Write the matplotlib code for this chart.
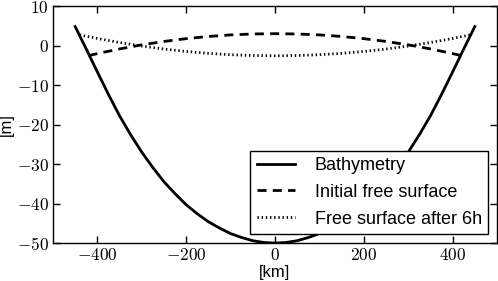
import numpy as np
import matplotlib
matplotlib.use('Agg')
import matplotlib.pyplot as plt
from matplotlib.ticker import FuncFormatter

# profile values, km / m
x_bathy = [-450, -425, -400, -375, -350, -325, -300, -275, -250, -225, -200,
           -175, -150, -125, -100, -75, -50, -25, 0,
           25, 50, 75, 100, 125, 150, 175, 200, 225, 250,
           275, 300, 325, 350, 375, 400, 425, 450]
h_bathy = [4.8, -0.9, -6.7, -12.4, -17.8, -22.6, -27.0, -30.9, -34.5, -37.5, -40.3,
           -42.6, -44.6, -46.2, -47.6, -48.6, -49.4, -49.85, -50.0,
           -49.85, -49.4, -48.6, -47.6, -46.2, -44.6, -42.6, -40.3, -37.5, -34.5,
           -30.9, -27.0, -22.6, -17.8, -12.4, -6.7, -0.9, 4.8]

x_init = [-420, -400, -350, -300, -250, -200, -150, -100, -50, 0,
          50, 100, 150, 200, 250, 300, 350, 400, 420]
eta_init = [-2.56, -2.04, -0.86, 0.17, 1.03, 1.74, 2.29, 2.69, 2.92, 3.0,
            2.92, 2.69, 2.29, 1.74, 1.03, 0.17, -0.86, -2.04, -2.56]

x_6h = [-440, -400, -350, -300, -250, -200, -150, -100, -50, 0,
        50, 100, 150, 200, 250, 300, 350, 400, 440]
eta_6h = [2.70, 1.78, 0.76, -0.13, -0.89, -1.50, -1.98, -2.33, -2.53, -2.6,
          -2.53, -2.33, -1.98, -1.50, -0.89, -0.13, 0.76, 1.78, 2.70]

labels = ['Bathymetry', 'Initial free surface', 'Free surface after 6h']

plt.rcParams['mathtext.fontset'] = 'cm'
plt.rcParams['font.family'] = ['Liberation Sans', 'DejaVu Sans']
plt.rcParams['lines.scale_dashes'] = False

fig = plt.figure(figsize=(4.98, 2.81), dpi=100)
ax = fig.add_axes([0.1064, 0.135, 0.8916, 0.8436])

ax.plot(x_bathy, h_bathy, color='black', lw=2, label=labels[0])
ax.plot(x_init, eta_init, color='black', lw=2, dashes=(6.5, 4.5), label=labels[1])
ax.plot(x_6h, eta_6h, color='black', lw=2, dashes=(1, 2), label=labels[2])

ax.set_xlim(-500, 500)
ax.set_ylim(-50, 10)
ax.set_xticks([-400, -200, 0, 200, 400])
ax.set_yticks([-50, -40, -30, -20, -10, 0, 10])
fmt = FuncFormatter(lambda v, p: r'$%d$' % v)
ax.xaxis.set_major_formatter(fmt)
ax.yaxis.set_major_formatter(fmt)
ax.tick_params(direction='in', top=True, right=True, length=5, width=1,
               labelsize=12.5, pad=3)
for s in ax.spines.values():
    s.set_linewidth(1)

ax.set_xlabel('[km]', fontsize=12, labelpad=1)
ax.set_ylabel('[m]', fontsize=12, labelpad=2)

leg = ax.legend(loc='lower right', fontsize=13, fancybox=False, framealpha=1,
                edgecolor='black', handlelength=2.1, handletextpad=1.1,
                borderpad=0.35, labelspacing=0.55, borderaxespad=0.5)
leg.get_frame().set_linewidth(1)

fig.savefig('out.png', dpi=100)
